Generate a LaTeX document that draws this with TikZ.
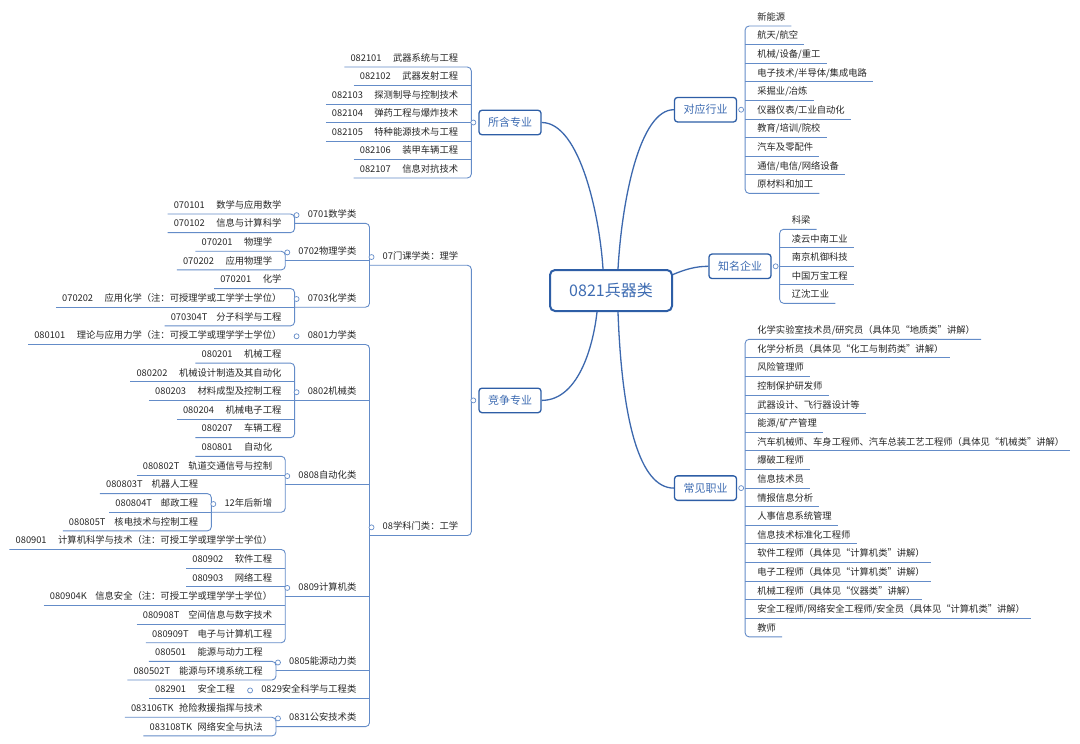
\documentclass[tikz,border=0pt]{standalone}
\usepackage{fontspec}
\setmainfont{Noto Sans CJK SC}
\usetikzlibrary{positioning,calc}
\definecolor{boxblue}{RGB}{46,94,166}
\definecolor{topicblue}{RGB}{62,108,178}
\definecolor{curveblue}{RGB}{60,104,174}
\definecolor{lineblue}{RGB}{100,140,200}
\definecolor{leafgray}{RGB}{38,38,38}
\newcommand{\leaffont}{\fontsize{9.3}{11}\selectfont}
\newcommand{\cn}[3][42.5pt]{\makebox[#1][l]{#2}#3}

\begin{document}
\begin{tikzpicture}[x=1pt, y=-1pt,
		txt/.style={inner xsep=6pt, inner ysep=3.5pt, text height=7pt, text depth=2pt, font=\leaffont, text=leafgray},
		ltxt/.style={txt, anchor=south east, xshift=-7pt},
		rtxt/.style={txt, anchor=south west, xshift=6pt},
		uline/.style={draw=lineblue, line width=0.9pt},
		mapbracket/.style={uline, rounded corners=4pt},
		topic/.style={draw=boxblue, fill=white, line width=1.3pt, rounded corners=3pt, text=topicblue, font=\fontsize{11}{13}\selectfont, inner xsep=9pt, minimum height=24.5pt},
		mapbranch/.style={draw=curveblue, line width=1.3pt},
		knob/.style={circle, draw=lineblue, fill=white, line width=0.7pt, inner sep=0pt, minimum size=5pt}]
		\pgfmathsetmacro{\rowtop}{214}
		\pgfmathsetmacro{\rowstep}{18.64}
		\fill[white] (0,0) rectangle (1080,744);
		\useasboundingbox (0,0) rectangle (1080,744);
		% Centro y ramas {{{
		\node[draw=boxblue, fill=white, line width=2pt, rounded corners=5pt, text=topicblue, font=\fontsize{16}{19}\selectfont, minimum width=122pt, minimum height=41pt] (root) at (611,290.5) {0821兵器类};
		\node[topic] (tsub) at (510,122.5) {所含专业};
		\node[topic] (tcomp) at (510,400.4) {竞争专业};
		\node[topic] (tind) at (705.5,109.7) {对应行业};
		\node[topic] (tfirm) at (740,266.3) {知名企业};
		\node[topic] (tjob) at (705.5,488.1) {常见职业};
		\draw[mapbranch] (tsub.east) .. controls +(39,0) and +(-3,-50) .. ([xshift=-8pt]root.north);
		\draw[mapbranch] ([xshift=7pt]root.north) .. controls +(4,-70) and +(-34,0) .. (tind.west);
		\draw[mapbranch] ([yshift=16pt]root.east) .. controls +(12,-5) and +(-13,0) .. (tfirm.west);
		\draw[mapbranch] ([xshift=7pt]root.south) .. controls +(4,110) and +(-34,0) .. (tjob.west);
		\draw[mapbranch] (tcomp.east) .. controls +(39,0) and +(-3,28) .. ([xshift=-14pt]root.south);
		% }}}
		% 所含专业 {{{
		\coordinate (bsub) at ([xshift=-7pt]tsub.west);
		\node[ltxt] (sub0) at (bsub |- 0,67) {\cn{082101}{武器系统与工程}};
		\node[ltxt] (sub1) at (bsub |- 0,85.5) {\cn{082102}{武器发射工程}};
		\node[ltxt] (sub2) at (bsub |- 0,104) {\cn{082103}{探测制导与控制技术}};
		\node[ltxt] (sub3) at (bsub |- 0,122.5) {\cn{082104}{弹药工程与爆炸技术}};
		\node[ltxt] (sub4) at (bsub |- 0,141) {\cn{082105}{特种能源技术与工程}};
		\node[ltxt] (sub5) at (bsub |- 0,159.5) {\cn{082106}{装甲车辆工程}};
		\node[ltxt] (sub6) at (bsub |- 0,178) {\cn{082107}{信息对抗技术}};
		\draw[mapbracket] (sub0.south west) -- (sub0.south -| bsub) -- (sub6.south -| bsub) -- (sub6.south west);
		\draw[uline] (sub1.south west) -- (sub1.south -| bsub) (sub2.south west) -- (sub2.south -| bsub)
			(sub3.south west) -- (sub3.south -| bsub) (sub4.south west) -- (sub4.south -| bsub)
			(sub5.south west) -- (sub5.south -| bsub);
		% }}}
		% 竞争专业: 门类 {{{
		\coordinate (bcomp) at ([xshift=-7pt]tcomp.west);
		\node[ltxt] (c07) at (bcomp |- 0,{\rowtop+2.75*\rowstep}) {07门课学类：理学};
		\node[ltxt] (c08) at (bcomp |- 0,{\rowtop+17.25*\rowstep}) {08学科门类：工学};
		\coordinate (b07) at ([xshift=-7pt]c07.south west);
		\coordinate (b08) at ([xshift=-7pt]c08.south west);
		\draw[mapbracket] (b07) -- (b07 -| bcomp) -- (b08 -| bcomp) -- (b08);
		% }}}
		% 07 理学 {{{
		\node[ltxt] (c0701) at (b07 |- 0,{\rowtop+0.5*\rowstep}) {0701数学类};
		\node[ltxt] (c0702) at (b07 |- 0,{\rowtop+2.5*\rowstep}) {0702物理学类};
		\node[ltxt] (c0703) at (b07 |- 0,{\rowtop+5*\rowstep}) {0703化学类};
		\coordinate (b0701) at ([xshift=-7pt]c0701.south west);
		\coordinate (b0702) at ([xshift=-7pt]c0702.south west);
		\coordinate (b0703) at ([xshift=-7pt]c0703.south west);
		\draw[mapbracket] (b0701) -- (b0701 -| b07) -- (b0703 -| b07) -- (b0703);
		\draw[uline] (b0702) -- (b0702 -| b07);
		\node[ltxt] (m0) at (b0701 |- 0,{\rowtop+0*\rowstep}) {\cn{070101}{数学与应用数学}};
		\node[ltxt] (m1) at (b0701 |- 0,{\rowtop+1*\rowstep}) {\cn{070102}{信息与计算科学}};
		\draw[mapbracket] (m0.south west) -- (m0.south -| b0701) -- (m1.south -| b0701) -- (m1.south west);
		\node[ltxt] (m2) at (b0702 |- 0,{\rowtop+2*\rowstep}) {\cn{070201}{物理学}};
		\node[ltxt] (m3) at (b0702 |- 0,{\rowtop+3*\rowstep}) {\cn{070202}{应用物理学}};
		\draw[mapbracket] (m2.south west) -- (m2.south -| b0702) -- (m3.south -| b0702) -- (m3.south west);
		\node[ltxt] (m4) at (b0703 |- 0,{\rowtop+4*\rowstep}) {\cn{070201}{化学}};
		\node[ltxt] (m5) at (b0703 |- 0,{\rowtop+5*\rowstep}) {\cn{070202}{应用化学（注：可授理学或工学学士学位）}};
		\node[ltxt] (m6) at (b0703 |- 0,{\rowtop+6*\rowstep}) {\cn[45.5pt]{070304T}{分子科学与工程}};
		\draw[mapbracket] (m4.south west) -- (m4.south -| b0703) -- (m6.south -| b0703) -- (m6.south west);
		\draw[uline] (m5.south west) -- (m5.south -| b0703);
		% }}}
		% 08 工学 {{{
		\node[ltxt] (c0801) at (b08 |- 0,{\rowtop+7*\rowstep}) {0801力学类};
		\node[ltxt] (c0802) at (b08 |- 0,{\rowtop+10*\rowstep}) {0802机械类};
		\node[ltxt] (c0808) at (b08 |- 0,{\rowtop+14.5*\rowstep}) {0808自动化类};
		\node[ltxt] (c0809) at (b08 |- 0,{\rowtop+20.5*\rowstep}) {0809计算机类};
		\node[ltxt] (c0805) at (b08 |- 0,{\rowtop+24.5*\rowstep}) {0805能源动力类};
		\node[ltxt] (c0829) at (b08 |- 0,{\rowtop+26*\rowstep}) {0829安全科学与工程类};
		\node[ltxt] (c0831) at (b08 |- 0,{\rowtop+27.5*\rowstep}) {0831公安技术类};
		\coordinate (b0801) at ([xshift=-7pt]c0801.south west);
		\coordinate (b0802) at ([xshift=-7pt]c0802.south west);
		\coordinate (b0808) at ([xshift=-7pt]c0808.south west);
		\coordinate (b0809) at ([xshift=-7pt]c0809.south west);
		\coordinate (b0805) at ([xshift=-7pt]c0805.south west);
		\coordinate (b0829) at ([xshift=-7pt]c0829.south west);
		\coordinate (b0831) at ([xshift=-7pt]c0831.south west);
		\draw[mapbracket] (b0801) -- (b0801 -| b08) -- (b0831 -| b08) -- (b0831);
		\draw[uline] (b0802) -- (b0802 -| b08) (b0808) -- (b0808 -| b08) (b0809) -- (b0809 -| b08)
			(b0805) -- (b0805 -| b08) (b0829) -- (b0829 -| b08);
		% 0801
		\node[ltxt] (m7) at (b0801 |- 0,{\rowtop+7*\rowstep}) {\cn{080101}{理论与应用力学（注：可授工学或理学学士学位）}};
		\draw[uline] (m7.south west) -- (b0801);
		% 0802
		\node[ltxt] (m8) at (b0802 |- 0,{\rowtop+8*\rowstep}) {\cn{080201}{机械工程}};
		\node[ltxt] (m9) at (b0802 |- 0,{\rowtop+9*\rowstep}) {\cn{080202}{机械设计制造及其自动化}};
		\node[ltxt] (m10) at (b0802 |- 0,{\rowtop+10*\rowstep}) {\cn{080203}{材料成型及控制工程}};
		\node[ltxt] (m11) at (b0802 |- 0,{\rowtop+11*\rowstep}) {\cn{080204}{机械电子工程}};
		\node[ltxt] (m12) at (b0802 |- 0,{\rowtop+12*\rowstep}) {\cn{080207}{车辆工程}};
		\draw[mapbracket] (m8.south west) -- (m8.south -| b0802) -- (m12.south -| b0802) -- (m12.south west);
		\draw[uline] (m9.south west) -- (m9.south -| b0802) (m10.south west) -- (m10.south -| b0802)
			(m11.south west) -- (m11.south -| b0802);
		% 0808
		\node[ltxt] (m13) at (b0808 |- 0,{\rowtop+13*\rowstep}) {\cn{080801}{自动化}};
		\node[ltxt] (m14) at (b0808 |- 0,{\rowtop+14*\rowstep}) {\cn[45.5pt]{080802T}{轨道交通信号与控制}};
		\node[ltxt] (c12) at (b0808 |- 0,{\rowtop+16*\rowstep}) {12年后新增};
		\coordinate (b12) at ([xshift=-7pt]c12.south west);
		\draw[mapbracket] (m13.south west) -- (m13.south -| b0808) -- (b12 -| b0808) -- (b12);
		\draw[uline] (m14.south west) -- (m14.south -| b0808);
		\node[ltxt] (m15) at (b12 |- 0,{\rowtop+15*\rowstep}) {\cn[45.5pt]{080803T}{机器人工程}};
		\node[ltxt] (m16) at (b12 |- 0,{\rowtop+16*\rowstep}) {\cn[45.5pt]{080804T}{邮政工程}};
		\node[ltxt] (m17) at (b12 |- 0,{\rowtop+17*\rowstep}) {\cn[45.5pt]{080805T}{核电技术与控制工程}};
		\draw[mapbracket] (m15.south west) -- (m15.south -| b12) -- (m17.south -| b12) -- (m17.south west);
		\draw[uline] (m16.south west) -- (m16.south -| b12);
		% 0809
		\node[ltxt] (m18) at (b0809 |- 0,{\rowtop+18*\rowstep}) {\cn{080901}{计算机科学与技术（注：可授工学或理学学士学位）}};
		\node[ltxt] (m19) at (b0809 |- 0,{\rowtop+19*\rowstep}) {\cn{080902}{软件工程}};
		\node[ltxt] (m20) at (b0809 |- 0,{\rowtop+20*\rowstep}) {\cn{080903}{网络工程}};
		\node[ltxt] (m21) at (b0809 |- 0,{\rowtop+21*\rowstep}) {\cn[45.5pt]{080904K}{信息安全（注：可授工学或理学学士学位）}};
		\node[ltxt] (m22) at (b0809 |- 0,{\rowtop+22*\rowstep}) {\cn[45.5pt]{080908T}{空间信息与数字技术}};
		\node[ltxt] (m23) at (b0809 |- 0,{\rowtop+23*\rowstep}) {\cn[45.5pt]{080909T}{电子与计算机工程}};
		\draw[mapbracket] (m18.south west) -- (m18.south -| b0809) -- (m23.south -| b0809) -- (m23.south west);
		\draw[uline] (m19.south west) -- (m19.south -| b0809) (m20.south west) -- (m20.south -| b0809)
			(m21.south west) -- (m21.south -| b0809) (m22.south west) -- (m22.south -| b0809);
		% 0805
		\node[ltxt] (m24) at (b0805 |- 0,{\rowtop+24*\rowstep}) {\cn{080501}{能源与动力工程}};
		\node[ltxt] (m25) at (b0805 |- 0,{\rowtop+25*\rowstep}) {\cn[45.5pt]{080502T}{能源与环境系统工程}};
		\draw[mapbracket] (m24.south west) -- (m24.south -| b0805) -- (m25.south -| b0805) -- (m25.south west);
		% 0829
		\node[ltxt] (m26) at (b0829 |- 0,{\rowtop+26*\rowstep}) {\cn{082901}{安全工程}};
		\draw[uline] (m26.south west) -- (b0829);
		% 0831
		\node[ltxt] (m27) at (b0831 |- 0,{\rowtop+27*\rowstep}) {\cn[48pt]{083106TK}{抢险救援指挥与技术}};
		\node[ltxt] (m28) at (b0831 |- 0,{\rowtop+28*\rowstep}) {\cn[48pt]{083108TK}{网络安全与执法}};
		\draw[mapbracket] (m27.south west) -- (m27.south -| b0831) -- (m28.south -| b0831) -- (m28.south west);
		% }}}
		% 对应行业 {{{
		\coordinate (bind) at ([xshift=8pt]tind.east);
		\node[rtxt] (ind0) at (bind |- 0,26) {新能源};
		\node[rtxt] (ind1) at (bind |- 0,44.6) {航天/航空};
		\node[rtxt] (ind2) at (bind |- 0,63.2) {机械/设备/重工};
		\node[rtxt] (ind3) at (bind |- 0,81.8) {电子技术/半导体/集成电路};
		\node[rtxt] (ind4) at (bind |- 0,100.4) {采掘业/冶炼};
		\node[rtxt] (ind5) at (bind |- 0,119) {仪器仪表/工业自动化};
		\node[rtxt] (ind6) at (bind |- 0,137.6) {教育/培训/院校};
		\node[rtxt] (ind7) at (bind |- 0,156.2) {汽车及零配件};
		\node[rtxt] (ind8) at (bind |- 0,174.8) {通信/电信/网络设备};
		\node[rtxt] (ind9) at (bind |- 0,193.4) {原材料和加工};
		\draw[mapbracket] (ind0.south east) -- (ind0.south -| bind) -- (ind9.south -| bind) -- (ind9.south east);
		\draw[uline] (ind1.south -| bind) -- (ind1.south east) (ind2.south -| bind) -- (ind2.south east)
			(ind3.south -| bind) -- (ind3.south east) (ind4.south -| bind) -- (ind4.south east)
			(ind5.south -| bind) -- (ind5.south east) (ind6.south -| bind) -- (ind6.south east)
			(ind7.south -| bind) -- (ind7.south east) (ind8.south -| bind) -- (ind8.south east);
		% }}}
		% 知名企业 {{{
		\coordinate (bfirm) at ([xshift=8pt]tfirm.east);
		\node[rtxt] (firm0) at (bfirm |- 0,229.3) {科梁};
		\node[rtxt] (firm1) at (bfirm |- 0,247.8) {凌云中南工业};
		\node[rtxt] (firm2) at (bfirm |- 0,266.3) {南京机御科技};
		\node[rtxt] (firm3) at (bfirm |- 0,284.8) {中国万宝工程};
		\node[rtxt] (firm4) at (bfirm |- 0,303.3) {辽沈工业};
		\draw[mapbracket] (firm0.south east) -- (firm0.south -| bfirm) -- (firm4.south -| bfirm) -- (firm4.south east);
		\draw[uline] (firm1.south -| bfirm) -- (firm1.south east) (firm2.south -| bfirm) -- (firm2.south east)
			(firm3.south -| bfirm) -- (firm3.south east);
		% }}}
		% 常见职业 {{{
		\coordinate (bjob) at ([xshift=8pt]tjob.east);
		\node[rtxt] (job0) at (bjob |- 0,339.3) {化学实验室技术员/研究员（具体见“地质类”讲解）};
		\node[rtxt] (job1) at (bjob |- 0,357.9) {化学分析员（具体见“化工与制药类”讲解）};
		\node[rtxt] (job2) at (bjob |- 0,376.5) {风险管理师};
		\node[rtxt] (job3) at (bjob |- 0,395.1) {控制保护研发师};
		\node[rtxt] (job4) at (bjob |- 0,413.7) {武器设计、飞行器设计等};
		\node[rtxt] (job5) at (bjob |- 0,432.3) {能源/矿产管理};
		\node[rtxt] (job6) at (bjob |- 0,450.9) {汽车机械师、车身工程师、汽车总装工艺工程师（具体见“机械类”讲解）};
		\node[rtxt] (job7) at (bjob |- 0,469.5) {爆破工程师};
		\node[rtxt] (job8) at (bjob |- 0,488.1) {信息技术员};
		\node[rtxt] (job9) at (bjob |- 0,506.7) {情报信息分析};
		\node[rtxt] (job10) at (bjob |- 0,525.3) {人事信息系统管理};
		\node[rtxt] (job11) at (bjob |- 0,543.9) {信息技术标准化工程师};
		\node[rtxt] (job12) at (bjob |- 0,562.5) {软件工程师（具体见“计算机类”讲解）};
		\node[rtxt] (job13) at (bjob |- 0,581.1) {电子工程师（具体见“计算机类”讲解）};
		\node[rtxt] (job14) at (bjob |- 0,599.7) {机械工程师（具体见“仪器类”讲解）};
		\node[rtxt] (job15) at (bjob |- 0,618.3) {安全工程师/网络安全工程师/安全员（具体见“计算机类”讲解）};
		\node[rtxt] (job16) at (bjob |- 0,636.9) {教师};
		\draw[mapbracket] (job0.south east) -- (job0.south -| bjob) -- (job16.south -| bjob) -- (job16.south east);
		\draw[uline] (job1.south -| bjob) -- (job1.south east) (job2.south -| bjob) -- (job2.south east)
			(job3.south -| bjob) -- (job3.south east) (job4.south -| bjob) -- (job4.south east)
			(job5.south -| bjob) -- (job5.south east) (job6.south -| bjob) -- (job6.south east)
			(job7.south -| bjob) -- (job7.south east) (job8.south -| bjob) -- (job8.south east)
			(job9.south -| bjob) -- (job9.south east) (job10.south -| bjob) -- (job10.south east)
			(job11.south -| bjob) -- (job11.south east) (job12.south -| bjob) -- (job12.south east)
			(job13.south -| bjob) -- (job13.south east) (job14.south -| bjob) -- (job14.south east)
			(job15.south -| bjob) -- (job15.south east);
		% }}}
		% Marcadores {{{
		\node[knob] (osub) at ([xshift=-5pt]tsub.west) {};
		\node[knob] (ocomp) at ([xshift=-5pt]tcomp.west) {};
		\node[knob] (oind) at ([xshift=4pt]tind.east) {};
		\node[knob] (ofirm) at ([xshift=4pt]tfirm.east) {};
		\node[knob] (ojob) at ([xshift=4pt]tjob.east) {};
		\node[knob] (o07) at ([xshift=-5pt]c07.west) {};
		\node[knob] (o08) at ([xshift=-5pt]c08.west) {};
		\node[knob] (o0701) at ([xshift=-5pt]c0701.west) {};
		\node[knob] (o0702) at ([xshift=-5pt]c0702.west) {};
		\node[knob] (o0703) at ([xshift=-5pt]c0703.west) {};
		\node[knob] (o0801) at ([xshift=-5pt]c0801.west) {};
		\node[knob] (o0802) at ([xshift=-5pt]c0802.west) {};
		\node[knob] (o0808) at ([xshift=-5pt]c0808.west) {};
		\node[knob] (o12) at ([xshift=-5pt]c12.west) {};
		\node[knob] (o0809) at ([xshift=-5pt]c0809.west) {};
		\node[knob] (o0805) at ([xshift=-5pt]c0805.west) {};
		\node[knob] (o0829) at ([xshift=-5pt]c0829.west) {};
		\node[knob] (o0831) at ([xshift=-5pt]c0831.west) {};
		% }}}
\end{tikzpicture}
\end{document}
